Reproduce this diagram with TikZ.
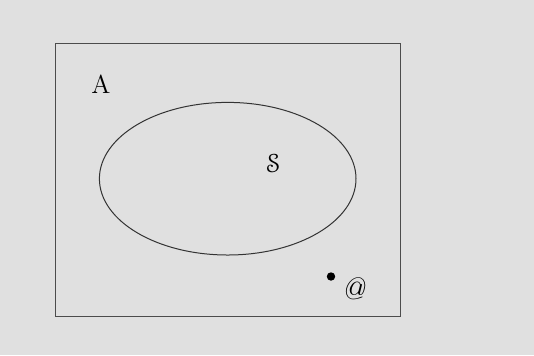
\documentclass[tikz,border=0pt]{standalone}
\usepackage[mathscr]{eucal}
\usetikzlibrary{shapes.geometric}
\begin{document}
\begin{tikzpicture}[x=0.5pt,y=-0.5pt,
  frame/.style={draw=black!70,line width=0.5pt},
  setline/.style={draw=black!80,line width=0.5pt},
  lbl/.style={inner sep=0pt,font=\fontsize{13}{15}\selectfont}]
\fill[black!12] (0,0) rectangle (534,355);
\useasboundingbox (0,0) rectangle (534,355);
\node[frame,minimum width=172.5pt,minimum height=136.5pt,inner sep=0pt] (U) at (227.5,179.5) {};
\node[setline,ellipse,minimum width=128.3pt,minimum height=76.3pt,inner sep=0pt] (E) at (227.7,178.7) {};
\node[lbl] (A) at (101,84.5) {A};
\node[lbl] (S) at (273.5,163.5) {$\mathscr{S}$};
\node[circle,fill=black,minimum size=4.2pt,inner sep=0pt] (d) at (331,276.5) {};
\node[lbl,font=\fontsize{15.5}{17}\selectfont] (at) at (353,288.5) {\itshape @};
\end{tikzpicture}
\end{document}
